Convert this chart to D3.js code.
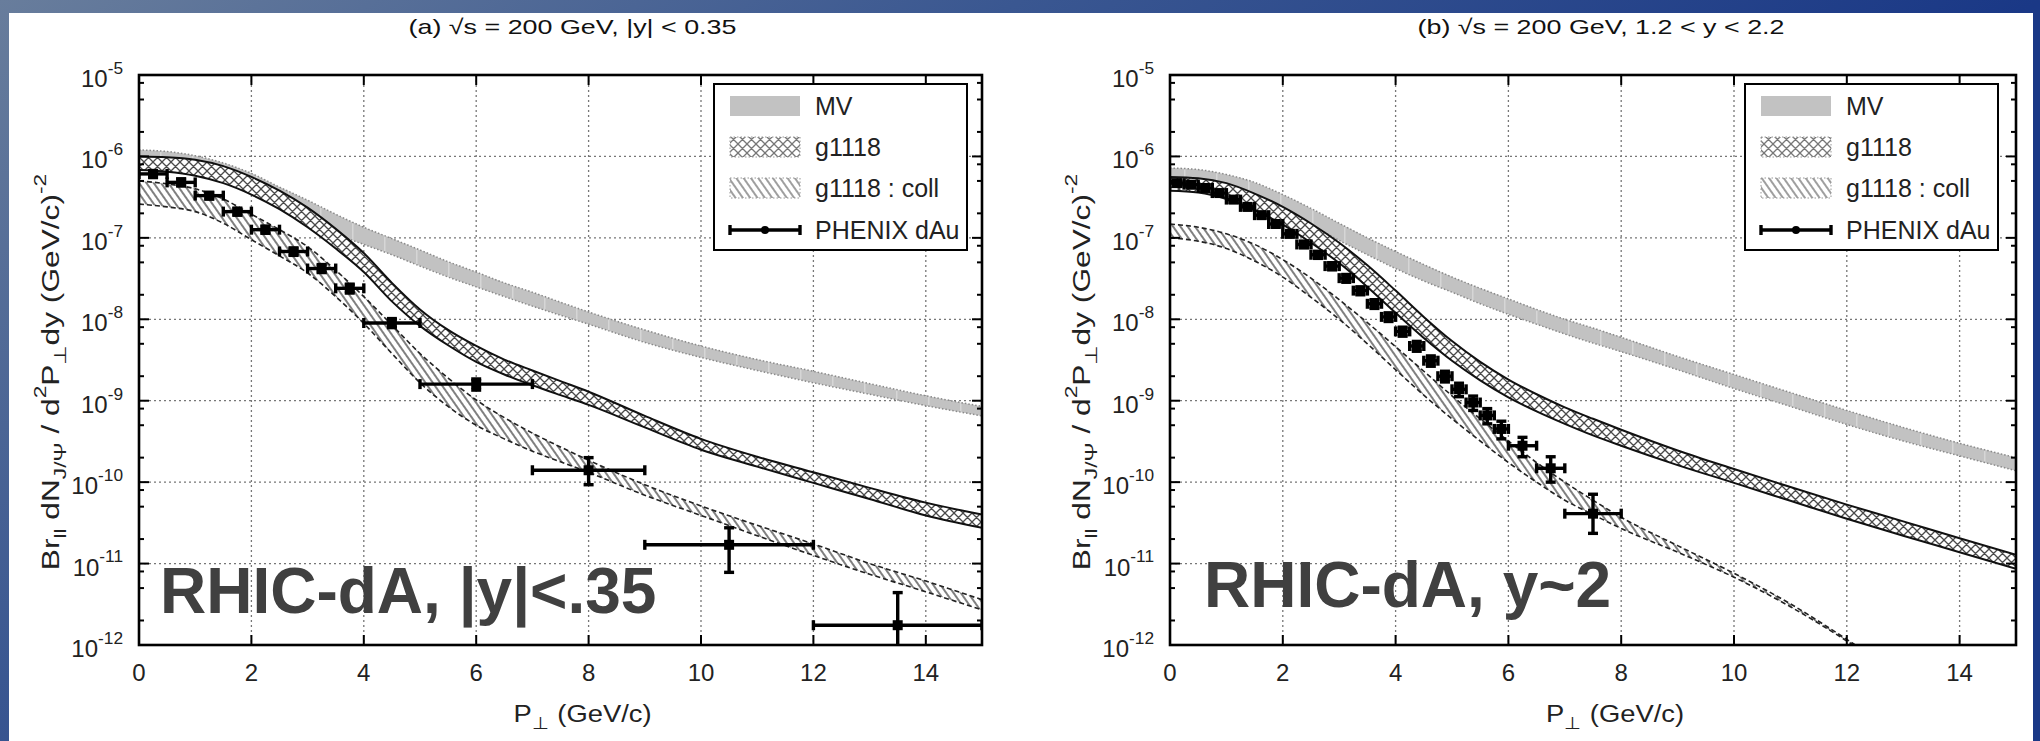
<!DOCTYPE html>
<html>
<head>
<meta charset="utf-8">
<script src="https://cdn.jsdelivr.net/npm/d3@7"></script>
<style>
  html, body { margin: 0; padding: 0; background: #1e3a86; }
  svg { display: block; font-family: "Liberation Sans", Arial, Helvetica, sans-serif; }
</style>
</head>
<body>
<svg id="fig" width="2040" height="741"></svg>
<script>
// ---------- shared transverse-momentum grid for the model bands (GeV/c) ----------
const ptGrid = [0, 0.5, 1, 1.5, 2, 2.5, 3, 3.5, 4, 4.5, 5, 5.5, 6, 6.5, 7, 7.5, 8, 9, 10, 11, 12, 13, 14, 15];

// ---------- panel (a): |y| < 0.35 ----------
const mvHiA = [1.2e-6, 1.15e-6, 1.02e-6, 8.3e-7, 6.2e-7, 4.2e-7, 2.9e-7, 1.95e-7, 1.35e-7, 9.8e-8, 7.1e-8, 5.1e-8, 3.8e-8, 2.8e-8, 2.15e-8, 1.62e-8, 1.23e-8, 7.4e-9, 4.7e-9, 3.2e-9, 2.3e-9, 1.62e-9, 1.15e-9, 8.5e-10];
const mvLoA = [7.9e-7, 7.6e-7, 6.8e-7, 5.4e-7, 3.8e-7, 2.5e-7, 1.66e-7, 1.12e-7, 8.3e-8, 6.2e-8, 4.5e-8, 3.3e-8, 2.5e-8, 1.9e-8, 1.45e-8, 1.12e-8, 8.7e-9, 5.2e-9, 3.4e-9, 2.35e-9, 1.66e-9, 1.2e-9, 8.7e-10, 6.5e-10];
const gHiA  = [1.0e-6, 9.8e-7, 9.1e-7, 7.6e-7, 5.6e-7, 3.8e-7, 2.35e-7, 1.29e-7, 6.5e-8, 2.8e-8, 1.32e-8, 7.4e-9, 4.7e-9, 3.2e-9, 2.35e-9, 1.74e-9, 1.29e-9, 6.5e-10, 3.4e-10, 2.05e-10, 1.32e-10, 8.5e-11, 5.6e-11, 4.0e-11];
const gLoA  = [6.8e-7, 6.5e-7, 5.8e-7, 4.7e-7, 3.4e-7, 2.25e-7, 1.35e-7, 7.4e-8, 3.8e-8, 1.66e-8, 8.3e-9, 4.8e-9, 3.0e-9, 2.1e-9, 1.55e-9, 1.17e-9, 8.9e-10, 4.7e-10, 2.5e-10, 1.55e-10, 9.8e-11, 6.2e-11, 3.9e-11, 2.75e-11];
const cHiA  = [5.0e-7, 4.6e-7, 4.0e-7, 3.0e-7, 1.95e-7, 1.26e-7, 7.8e-8, 4.0e-8, 1.9e-8, 8.5e-9, 3.8e-9, 1.9e-9, 1.02e-9, 6.2e-10, 4.0e-10, 2.7e-10, 1.86e-10, 9.3e-11, 5.1e-11, 2.95e-11, 1.74e-11, 1.0e-11, 6.1e-12, 3.6e-12];
const cLoA  = [2.6e-7, 2.4e-7, 2.1e-7, 1.51e-7, 9.5e-8, 6.0e-8, 3.7e-8, 1.9e-8, 8.9e-9, 3.8e-9, 1.66e-9, 8.5e-10, 5.0e-10, 3.4e-10, 2.4e-10, 1.78e-10, 1.32e-10, 6.9e-11, 3.9e-11, 2.2e-11, 1.26e-11, 7.4e-12, 4.5e-12, 2.7e-12];

// PHENIX dAu, |y| < 0.35: bin centre, bin edges, value, error range
const phxPtA  = [0.25, 0.75, 1.25, 1.75, 2.25, 2.75, 3.25, 3.75, 4.5, 6.0, 8.0, 10.5, 13.5];
const phxBinA = [[0, 0.5], [0.5, 1], [1, 1.5], [1.5, 2], [2, 2.5], [2.5, 3], [3, 3.5], [3.5, 4], [4, 5], [5, 7], [7, 9], [9, 12], [12, 15]];
const phxValA = [6.1e-7, 4.8e-7, 3.3e-7, 2.1e-7, 1.26e-7, 6.8e-8, 4.2e-8, 2.4e-8, 9.0e-9, 1.6e-9, 1.4e-10, 1.7e-11, 1.75e-12];
const phxErrA = [[5.5e-7, 6.7e-7], [4.35e-7, 5.3e-7], [3.0e-7, 3.6e-7], [1.9e-7, 2.3e-7], [1.14e-7, 1.39e-7], [6.1e-8, 7.5e-8], [3.75e-8, 4.7e-8], [2.1e-8, 2.7e-8], [7.9e-9, 1.02e-8], [1.35e-9, 1.85e-9], [9.3e-11, 2.0e-10], [7.8e-12, 2.75e-11], [5e-13, 4.4e-12]];

// ---------- panel (b): 1.2 < y < 2.2 ----------
const mvHiB = [7.2e-7, 6.9e-7, 6.0e-7, 4.8e-7, 3.4e-7, 2.3e-7, 1.51e-7, 1.0e-7, 6.8e-8, 4.7e-8, 3.3e-8, 2.4e-8, 1.78e-8, 1.32e-8, 1.0e-8, 7.8e-9, 6.0e-9, 3.5e-9, 2.1e-9, 1.26e-9, 7.6e-10, 4.7e-10, 3.0e-10, 2.0e-10];
const mvLoB = [5.0e-7, 4.8e-7, 4.2e-7, 3.2e-7, 2.2e-7, 1.45e-7, 9.3e-8, 6.2e-8, 4.2e-8, 2.95e-8, 2.15e-8, 1.55e-8, 1.15e-8, 8.7e-9, 6.6e-9, 5.1e-9, 4.0e-9, 2.4e-9, 1.41e-9, 8.5e-10, 5.1e-10, 3.2e-10, 2.1e-10, 1.38e-10];
const gHiB  = [5.6e-7, 5.4e-7, 4.7e-7, 3.5e-7, 2.4e-7, 1.5e-7, 8.7e-8, 4.6e-8, 2.25e-8, 1.07e-8, 5.4e-9, 3.0e-9, 1.82e-9, 1.2e-9, 8.3e-10, 6.0e-10, 4.4e-10, 2.45e-10, 1.45e-10, 8.7e-11, 5.3e-11, 3.3e-11, 2.05e-11, 1.28e-11];
const gLoB  = [3.8e-7, 3.6e-7, 3.0e-7, 2.2e-7, 1.45e-7, 8.7e-8, 4.9e-8, 2.5e-8, 1.2e-8, 5.9e-9, 3.1e-9, 1.78e-9, 1.1e-9, 7.4e-10, 5.2e-10, 3.75e-10, 2.8e-10, 1.62e-10, 9.8e-11, 5.9e-11, 3.55e-11, 2.2e-11, 1.38e-11, 8.6e-12];
const cHiB  = [1.48e-7, 1.35e-7, 1.12e-7, 8.3e-8, 5.4e-8, 3.2e-8, 1.74e-8, 9.1e-9, 4.6e-9, 2.3e-9, 1.15e-9, 6.0e-10, 3.2e-10, 1.74e-10, 1.0e-10, 6.0e-11, 3.7e-11, 1.66e-11, 7.6e-12, 3.2e-12, 1.17e-12, 4.0e-13, 1.26e-13, 4.0e-14];
const cLoB  = [1.0e-7, 9.1e-8, 7.4e-8, 5.2e-8, 3.3e-8, 1.86e-8, 1.0e-8, 5.0e-9, 2.4e-9, 1.17e-9, 6.0e-10, 3.2e-10, 1.74e-10, 1.0e-10, 6.0e-11, 4.0e-11, 2.7e-11, 1.38e-11, 6.8e-12, 2.95e-12, 1.12e-12, 3.8e-13, 1.2e-13, 3.8e-14];

// PHENIX dAu, 1.2 < y < 2.2
const phxPtB  = [0.125, 0.375, 0.625, 0.875, 1.125, 1.375, 1.625, 1.875, 2.125, 2.375, 2.625, 2.875, 3.125, 3.375, 3.625, 3.875, 4.125, 4.375, 4.625, 4.875, 5.125, 5.375, 5.625, 5.875, 6.25, 6.75, 7.5];
const phxBinB = [[0, 0.25], [0.25, 0.5], [0.5, 0.75], [0.75, 1], [1, 1.25], [1.25, 1.5], [1.5, 1.75], [1.75, 2], [2, 2.25], [2.25, 2.5], [2.5, 2.75], [2.75, 3], [3, 3.25], [3.25, 3.5], [3.5, 3.75], [3.75, 4], [4, 4.25], [4.25, 4.5], [4.5, 4.75], [4.75, 5], [5, 5.25], [5.25, 5.5], [5.5, 5.75], [5.75, 6], [6, 6.5], [6.5, 7], [7, 8]];
const phxValB = [4.7e-7, 4.5e-7, 4.1e-7, 3.55e-7, 2.95e-7, 2.4e-7, 1.9e-7, 1.48e-7, 1.12e-7, 8.3e-8, 6.2e-8, 4.5e-8, 3.2e-8, 2.25e-8, 1.55e-8, 1.07e-8, 7.1e-9, 4.7e-9, 3.1e-9, 2.0e-9, 1.38e-9, 9.5e-10, 6.6e-10, 4.5e-10, 2.8e-10, 1.48e-10, 4.1e-11];
const phxErrB = [[4.35e-7, 5.05e-7], [4.15e-7, 4.85e-7], [3.8e-7, 4.4e-7], [3.3e-7, 3.8e-7], [2.73e-7, 3.17e-7], [2.22e-7, 2.58e-7], [1.76e-7, 2.04e-7], [1.37e-7, 1.59e-7], [1.03e-7, 1.21e-7], [7.6e-8, 9.0e-8], [5.6e-8, 6.8e-8], [4.05e-8, 4.95e-8], [2.85e-8, 3.55e-8], [2.0e-8, 2.5e-8], [1.36e-8, 1.74e-8], [9.4e-9, 1.2e-8], [6.2e-9, 8.0e-9], [4.05e-9, 5.35e-9], [2.65e-9, 3.55e-9], [1.7e-9, 2.3e-9], [1.12e-9, 1.64e-9], [7.6e-10, 1.14e-9], [5.2e-10, 8.0e-10], [3.4e-10, 5.6e-10], [2.05e-10, 3.55e-10], [1.0e-10, 2.05e-10], [2.35e-11, 7.1e-11]];

// ---------- axis ticks and labels ----------
const xTickValues = [0, 2, 4, 6, 8, 10, 12, 14];
const xGridValues = [2, 4, 6, 8, 10, 12, 14];
const yDecadeExps = [-5, -6, -7, -8, -9, -10, -11, -12];
const yMinorMult  = [2, 5, 8];
const legendNames = ["MV", "g1118", "g1118 : coll", "PHENIX dAu"];

const panels = [
  {
    id: "a", left: 139, right: 982, titleShift: 12,
    title: [["(a) \u221As = 200 GeV, |y| < 0.35", null]],
    mvHi: mvHiA, mvLo: mvLoA, gHi: gHiA, gLo: gLoA, cHi: cHiA, cLo: cLoA,
    pt: phxPtA, bins: phxBinA, val: phxValA, err: phxErrA,
    tag: "RHIC-dA, |y|<.35", tagX: 160, tagY: 613
  },
  {
    id: "b", left: 1170, right: 2016, titleShift: 8,
    title: [["(b) \u221As = 200 GeV, 1.2 < y < 2.2", null]],
    mvHi: mvHiB, mvLo: mvLoB, gHi: gHiB, gLo: gLoB, cHi: cHiB, cLo: cLoB,
    pt: phxPtB, bins: phxBinB, val: phxValB, err: phxErrB,
    tag: "RHIC-dA, y~2", tagX: 1204, tagY: 607
  }
];

const W = 2040, H = 741;
const TOP = 75, BOTTOM = 645;
const svg = d3.select("#fig");
const defs = svg.append("defs");

// page background: slate-to-navy gradient framing a white sheet
const bg = defs.append("linearGradient").attr("id", "bgGrad")
  .attr("gradientUnits", "userSpaceOnUse")
  .attr("x1", 0).attr("y1", 0).attr("x2", 628).attr("y2", 942);
bg.append("stop").attr("offset", 0).attr("stop-color", "#687d9c");
bg.append("stop").attr("offset", 0.5).attr("stop-color", "#3a5791");
bg.append("stop").attr("offset", 1).attr("stop-color", "#1a3886");
svg.append("rect").attr("width", W).attr("height", H).attr("fill", "url(#bgGrad)");
svg.append("rect").attr("x", 9).attr("y", 13).attr("width", 2024).attr("height", H - 13).attr("fill", "#ffffff");

// fill patterns
const mvPat = defs.append("pattern").attr("id", "mvFill")
  .attr("patternUnits", "userSpaceOnUse").attr("width", 32).attr("height", 8);
mvPat.append("rect").attr("width", 32).attr("height", 8).attr("fill", "#c2c2c2");
mvPat.append("rect").attr("x", 0).attr("width", 1.5).attr("height", 8).attr("fill", "#d6d6d6");

const xh = defs.append("pattern").attr("id", "crossHatch")
  .attr("patternUnits", "userSpaceOnUse").attr("width", 9).attr("height", 9);
xh.append("rect").attr("width", 9).attr("height", 9).attr("fill", "#ffffff");
xh.append("path").attr("d", "M0,0L9,9M9,0L0,9M-1,8L1,10M8,-1L10,1")
  .attr("stroke", "#4a4a4a").attr("stroke-width", 1.3).attr("fill", "none");

const dh = defs.append("pattern").attr("id", "diagHatch")
  .attr("patternUnits", "userSpaceOnUse").attr("width", 6).attr("height", 6)
  .attr("patternTransform", "rotate(-35)");
dh.append("rect").attr("width", 6).attr("height", 6).attr("fill", "#ffffff");
dh.append("line").attr("x1", 3).attr("y1", 0).attr("x2", 3).attr("y2", 6)
  .attr("stroke", "#555").attr("stroke-width", 1.5);

// writes text made of plain / superscript / subscript runs
function richText(textSel, parts, fs) {
  let shift = 0;
  parts.forEach(([t, kind]) => {
    const target = kind === "sup" ? -0.55 * fs : kind === "sub" ? 0.28 * fs : 0;
    const ts = textSel.append("tspan").attr("dy", target - shift).text(t);
    if (kind) ts.attr("font-size", fs * 0.72);
    shift = target;
  });
}

const y = d3.scaleLog().domain([1e-5, 1e-12]).range([TOP, BOTTOM]);

panels.forEach(P => {
  const x = d3.scaleLinear().domain([0, 15]).range([P.left, P.right]);
  const g = svg.append("g");
  const clipId = "clip-" + P.id;
  defs.append("clipPath").attr("id", clipId)
    .append("rect").attr("x", P.left).attr("y", TOP)
    .attr("width", P.right - P.left).attr("height", BOTTOM - TOP);

  // title (set in a horizontally widened face)
  const tt = g.append("text")
    .attr("transform", `translate(${(P.left + P.right) / 2 + P.titleShift},34) scale(1.28,1)`)
    .attr("text-anchor", "middle").attr("font-size", 21).attr("fill", "#111");
  richText(tt, P.title, 21);

  // grid
  const grid = g.append("g").attr("stroke", "#777").attr("stroke-width", 1.3)
    .attr("stroke-dasharray", "2,3");
  xGridValues.forEach(v => grid.append("line")
    .attr("x1", x(v)).attr("x2", x(v)).attr("y1", TOP).attr("y2", BOTTOM));
  yDecadeExps.slice(1, -1).forEach(e => grid.append("line")
    .attr("x1", P.left).attr("x2", P.right).attr("y1", y(Math.pow(10, e))).attr("y2", y(Math.pow(10, e))));

  // model bands
  const bands = g.append("g").attr("clip-path", `url(#${clipId})`);
  const rows = (hi, lo) => ptGrid.map((p, i) => ({ p, hi: hi[i], lo: lo[i] }));
  const area = d3.area().x(d => x(d.p)).y0(d => y(d.lo)).y1(d => y(d.hi)).curve(d3.curveMonotoneX);
  const lineHi = d3.line().x(d => x(d.p)).y(d => y(d.hi)).curve(d3.curveMonotoneX);
  const lineLo = d3.line().x(d => x(d.p)).y(d => y(d.lo)).curve(d3.curveMonotoneX);

  const mv = rows(P.mvHi, P.mvLo);
  bands.append("path").attr("d", area(mv)).attr("fill", "url(#mvFill)");
  [lineHi, lineLo].forEach(l => bands.append("path").attr("d", l(mv)).attr("fill", "none")
    .attr("stroke", "#8a8a8a").attr("stroke-width", 1.5).attr("stroke-dasharray", "1.5,2"));

  const gb = rows(P.gHi, P.gLo);
  bands.append("path").attr("d", area(gb)).attr("fill", "url(#crossHatch)");
  [lineHi, lineLo].forEach(l => bands.append("path").attr("d", l(gb)).attr("fill", "none")
    .attr("stroke", "#111").attr("stroke-width", 2));

  const cb = rows(P.cHi, P.cLo);
  bands.append("path").attr("d", area(cb)).attr("fill", "url(#diagHatch)");
  [lineHi, lineLo].forEach(l => bands.append("path").attr("d", l(cb)).attr("fill", "none")
    .attr("stroke", "#222").attr("stroke-width", 1.6).attr("stroke-dasharray", "5,3"));

  // PHENIX data with error bars
  const pts = g.append("g").attr("clip-path", `url(#${clipId})`)
    .attr("stroke", "#000").attr("stroke-width", 3.4).attr("fill", "#000");
  P.pt.forEach((p, i) => {
    const cx = x(p), cy = y(P.val[i]);
    const [b0, b1] = P.bins[i];
    const [e0, e1] = P.err[i];
    pts.append("line").attr("x1", x(b0)).attr("x2", x(b1)).attr("y1", cy).attr("y2", cy);
    pts.append("line").attr("x1", x(b0)).attr("x2", x(b0)).attr("y1", cy - 5).attr("y2", cy + 5);
    pts.append("line").attr("x1", x(b1)).attr("x2", x(b1)).attr("y1", cy - 5).attr("y2", cy + 5);
    pts.append("line").attr("x1", cx).attr("x2", cx).attr("y1", y(e0)).attr("y2", y(e1));
    pts.append("line").attr("x1", cx - 5).attr("x2", cx + 5).attr("y1", y(e0)).attr("y2", y(e0));
    pts.append("line").attr("x1", cx - 5).attr("x2", cx + 5).attr("y1", y(e1)).attr("y2", y(e1));
    pts.append("rect").attr("x", cx - 5).attr("y", cy - 5).attr("width", 10).attr("height", 10).attr("stroke", "none");
  });

  // frame and ticks
  const ax = g.append("g").attr("stroke", "#000").attr("stroke-width", 2);
  xTickValues.forEach(v => {
    ax.append("line").attr("x1", x(v)).attr("x2", x(v)).attr("y1", BOTTOM).attr("y2", BOTTOM - 10);
    ax.append("line").attr("x1", x(v)).attr("x2", x(v)).attr("y1", TOP).attr("y2", TOP + 10);
  });
  yDecadeExps.forEach((e, k) => {
    const yy = y(Math.pow(10, e));
    ax.append("line").attr("x1", P.left).attr("x2", P.left + 10).attr("y1", yy).attr("y2", yy);
    ax.append("line").attr("x1", P.right).attr("x2", P.right - 10).attr("y1", yy).attr("y2", yy);
    if (k < yDecadeExps.length - 1) {
      yMinorMult.forEach(m => {
        const ym = y(m * Math.pow(10, e - 1));
        ax.append("line").attr("x1", P.left).attr("x2", P.left + 5).attr("y1", ym).attr("y2", ym);
        ax.append("line").attr("x1", P.right).attr("x2", P.right - 5).attr("y1", ym).attr("y2", ym);
      });
    }
  });
  g.append("rect").attr("x", P.left).attr("y", TOP).attr("width", P.right - P.left).attr("height", BOTTOM - TOP)
    .attr("fill", "none").attr("stroke", "#000").attr("stroke-width", 2.6);

  // tick labels
  const tl = g.append("g").attr("fill", "#222").attr("font-size", 24);
  xTickValues.forEach(v => tl.append("text").attr("x", x(v)).attr("y", 681)
    .attr("text-anchor", "middle").text(v));
  yDecadeExps.forEach(e => {
    const t = tl.append("text").attr("x", P.left - 16).attr("y", y(Math.pow(10, e)) + 12)
      .attr("text-anchor", "end");
    richText(t, [["10", null], [String(e), "sup"]], 24);
  });

  // axis titles
  const xl = g.append("text")
    .attr("transform", `translate(${(P.left + P.right) / 2 + 22},722) scale(1.14,1)`)
    .attr("text-anchor", "middle").attr("font-size", 24).attr("fill", "#222");
  richText(xl, [["P", null], ["\u22A5", "sub"], [" (GeV/c)", null]], 24);

  const yl = g.append("text")
    .attr("transform", `translate(${P.left - 80},372) rotate(-90) scale(1.32,1)`)
    .attr("text-anchor", "middle").attr("font-size", 24).attr("fill", "#222");
  richText(yl, [["Br", null], ["ll", "sub"], [" dN", null], ["J/\u03A8", "sub"], [" / d", null], ["2", "sup"],
    ["P", null], ["\u22A5", "sub"], ["dy  (GeV/c)", null], ["-2", "sup"]], 24);

  // legend
  const lx = P.left + 575, ly = 84;
  const lg = g.append("g");
  lg.append("rect").attr("x", lx).attr("y", ly).attr("width", 253).attr("height", 166)
    .attr("fill", "#fff").attr("stroke", "#000").attr("stroke-width", 2);
  const rowY = [106, 147, 188, 230];
  lg.append("rect").attr("x", lx + 16).attr("y", rowY[0] - 10).attr("width", 70).attr("height", 20).attr("fill", "#c2c2c2");
  lg.append("rect").attr("x", lx + 16).attr("y", rowY[1] - 10).attr("width", 70).attr("height", 20)
    .attr("fill", "url(#crossHatch)").attr("opacity", 0.75).attr("stroke", "#777").attr("stroke-dasharray", "1.5,2");
  lg.append("rect").attr("x", lx + 16).attr("y", rowY[2] - 10).attr("width", 70).attr("height", 20)
    .attr("fill", "url(#diagHatch)").attr("opacity", 0.75).attr("stroke", "#777").attr("stroke-dasharray", "1.5,2");
  const ls = lg.append("g").attr("stroke", "#000").attr("stroke-width", 3.4);
  ls.append("line").attr("x1", lx + 16).attr("x2", lx + 86).attr("y1", rowY[3]).attr("y2", rowY[3]);
  ls.append("line").attr("x1", lx + 16).attr("x2", lx + 16).attr("y1", rowY[3] - 5).attr("y2", rowY[3] + 5);
  ls.append("line").attr("x1", lx + 86).attr("x2", lx + 86).attr("y1", rowY[3] - 5).attr("y2", rowY[3] + 5);
  lg.append("circle").attr("cx", lx + 51).attr("cy", rowY[3]).attr("r", 4).attr("fill", "#000");
  legendNames.forEach((n, i) => lg.append("text").attr("x", lx + 101).attr("y", rowY[i] + 9)
    .attr("font-size", 25).attr("fill", "#222").text(n));

  // panel tag
  g.append("text").attr("x", P.tagX).attr("y", P.tagY).attr("font-size", 64).attr("font-weight", "bold")
    .attr("fill", "#404040").text(P.tag);
});
</script>
</body>
</html>
